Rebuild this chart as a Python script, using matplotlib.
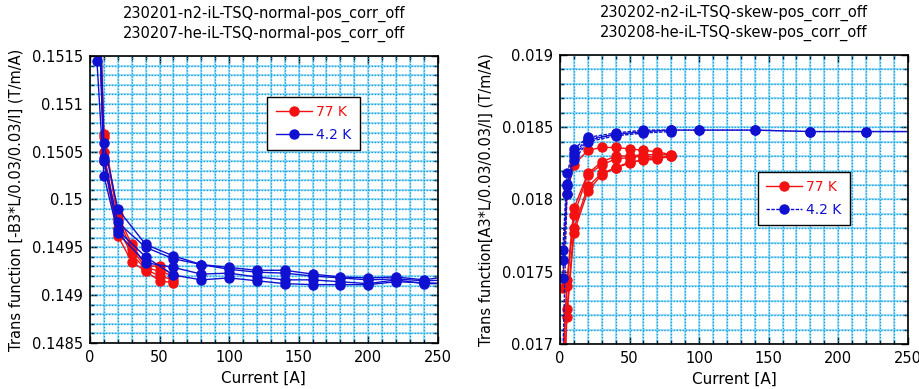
import matplotlib
matplotlib.use("Agg")
import matplotlib.pyplot as plt
from matplotlib.ticker import MultipleLocator, FuncFormatter
import numpy as np

# ---------------- Left panel data (normal) ----------------
left_title = "230201-n2-iL-TSQ-normal-pos_corr_off\n230207-he-iL-TSQ-normal-pos_corr_off"
left_ylabel = "Trans function [-B3*L/0.03/0.03/I] (T/m/A)"

left_red_x = [
    [5, 10, 20, 30, 40, 50, 60],
    [5, 10, 20, 30, 40, 50, 60],
    [5, 10, 20, 30, 40, 50, 60],
    [5, 10, 20, 30, 40, 50, 60],
]
left_red_y = [
    [0.1530, 0.15068, 0.14984, 0.14953, 0.14931, 0.14930, 0.14921],
    [0.1528, 0.15065, 0.14980, 0.14948, 0.14929, 0.14925, 0.14920],
    [0.1526, 0.15050, 0.14970, 0.14943, 0.14927, 0.14920, 0.14916],
    [0.1525, 0.15040, 0.14962, 0.14935, 0.14925, 0.14915, 0.14913],
]

left_blue_x = [5, 10, 20, 40, 60, 80, 100, 120, 140, 160, 180, 200, 220, 240, 260]
left_blue_y = [
    [0.1530, 0.15059, 0.14990, 0.14953, 0.14941, 0.14932, 0.14929, 0.14926, 0.14926, 0.14922, 0.14919, 0.14918, 0.14919, 0.14916, 0.14920],
    [0.1528, 0.15043, 0.14976, 0.14950, 0.14938, 0.14932, 0.14927, 0.14924, 0.14923, 0.14920, 0.14918, 0.14916, 0.14917, 0.14915, 0.14916],
    [0.15145, 0.15025, 0.14965, 0.14934, 0.14929, 0.14922, 0.14923, 0.14919, 0.14916, 0.14916, 0.14914, 0.14912, 0.14916, 0.14912, 0.14912],
    [0.1525, 0.15040, 0.14968, 0.14940, 0.14921, 0.14916, 0.14918, 0.14915, 0.14912, 0.14911, 0.14911, 0.14911, 0.14914, 0.14913, 0.14912],
]

# ---------------- Right panel data (skew) ----------------
right_title = "230202-n2-iL-TSQ-skew-pos_corr_off\n230208-he-iL-TSQ-skew-pos_corr_off"
right_ylabel = "Trans function[A3*L/0.03/0.03/I] (T/m/A)"

right_red_x = [2, 5, 10, 20, 30, 40, 50, 60, 70, 80]
right_red_y = [
    [0.01739, 0.01804, 0.01824, 0.01834, 0.01836, 0.01836, 0.01835, 0.01834, 0.01833, 0.01831],
    [0.01680, 0.01744, 0.01794, 0.01818, 0.01826, 0.01830, 0.01830, 0.01831, 0.01831, 0.01831],
    [0.01690, 0.01740, 0.01789, 0.01817, 0.01824, 0.01828, 0.01829, 0.01830, 0.01829, 0.01830],
    [0.01650, 0.01724, 0.01780, 0.01809, 0.01818, 0.01822, 0.01826, 0.01827, 0.01828, 0.01830],
    [0.01650, 0.01719, 0.01777, 0.01806, 0.01817, 0.01822, 0.01825, 0.01828, 0.01829, 0.01830],
]

right_blue_x = [
    [2, 5, 10, 20, 40, 60, 80, 100, 140, 180, 220, 260],
    [2, 5, 10, 20, 40, 60, 80, 100, 140, 180, 220, 260],
    [2, 5, 10, 20, 40, 60, 80],
    [1, 5, 10, 20, 40, 60, 80],
]
right_blue_y = [
    [0.01765, 0.01818, 0.01835, 0.01843, 0.01846, 0.01848, 0.01848, 0.01848, 0.01848, 0.01847, 0.01847, 0.01847],
    [0.01758, 0.01811, 0.01832, 0.01842, 0.01845, 0.01847, 0.01848, 0.01848, 0.01848, 0.01847, 0.01847, 0.01847],
    [0.017455, 0.01809, 0.01830, 0.01841, 0.01845, 0.01847, 0.01848],
    [0.01650, 0.01804, 0.01827, 0.01840, 0.01844, 0.01846, 0.01847],
]

legend_labels = ["77 K", "4.2 K"]

RED = "#f21010"
BLUE = "#1010d0"
GRID_LIGHT = "#a6e1f7"
GRID_DARK = "#12a2e2"

fig = plt.figure(figsize=(9.2, 3.89), dpi=100)
axL = fig.add_axes([0.0978, 0.1183, 0.378, 0.7378])
axR = fig.add_axes([0.6087, 0.1157, 0.378, 0.7430])

fmt = FuncFormatter(lambda v, p: "%g" % round(v, 6))


def style(ax, ylim, ymajor):
    ax.set_xlim(0, 250)
    ax.set_ylim(*ylim)
    ax.xaxis.set_major_locator(MultipleLocator(50))
    ax.xaxis.set_minor_locator(MultipleLocator(10))
    ax.yaxis.set_major_locator(MultipleLocator(ymajor))
    ax.yaxis.set_minor_locator(MultipleLocator(ymajor / 5))
    ax.yaxis.set_major_formatter(fmt)
    ax.set_axisbelow(True)
    ax.grid(which="both", color=GRID_LIGHT, lw=1.4, ls="-", zorder=0)
    # dotted overlay
    for xv in np.arange(10, 250, 10):
        ax.axvline(xv, color=GRID_DARK, lw=1.0, ls=(0, (1, 1.2)), zorder=1)
    for yv in np.arange(ylim[0] + ymajor / 5, ylim[1] - 1e-9, ymajor / 5):
        ax.axhline(yv, color=GRID_DARK, lw=1.0, ls=(0, (1, 1.2)), zorder=1)
    ax.tick_params(which="both", direction="in", top=True, right=True,
                   labelsize=10.5, pad=5)
    ax.tick_params(which="major", length=5, width=1)
    ax.tick_params(which="minor", length=3, width=1)
    for s in ax.spines.values():
        s.set_linewidth(1.2)
        s.set_zorder(5)
    ax.set_xlabel("Current [A]", fontsize=11, labelpad=4)


style(axL, (0.1485, 0.1515), 0.0005)
style(axR, (0.017, 0.019), 0.0005)

# Left plot
for i, (xs, ys) in enumerate(zip(left_red_x, left_red_y)):
    axL.plot(xs, ys, "-o", color=RED, lw=1.0, ms=6.5, zorder=3,
             label=legend_labels[0] if i == 0 else None)
for i, ys in enumerate(left_blue_y):
    axL.plot(left_blue_x, ys, "-o", color=BLUE, lw=1.0, ms=6.5, zorder=4,
             label=legend_labels[1] if i == 0 else None)

# Right plot
for i, ys in enumerate(right_red_y):
    axR.plot(right_red_x, ys, "-o", color=RED, lw=1.0, ms=6.5, zorder=3,
             label=legend_labels[0] if i == 0 else None)
for i, (xs, ys) in enumerate(zip(right_blue_x, right_blue_y)):
    axR.plot(xs, ys, "-o", color=BLUE, lw=1.0, ms=6.5, ls=(0, (2.5, 1)), zorder=4,
             label=legend_labels[1] if i == 0 else None)

axL.set_title(left_title, fontsize=10.5, linespacing=1.35, pad=13)
axR.set_title(right_title, fontsize=10.5, linespacing=1.35, pad=13)
axL.set_ylabel(left_ylabel, fontsize=10.5, labelpad=6)
axR.set_ylabel(right_ylabel, fontsize=10.5, labelpad=6)

for ax, loc in ((axL, (0.51, 0.857)), (axR, (0.569, 0.595))):
    leg = ax.legend(loc="upper left", bbox_to_anchor=loc, fontsize=10,
                    frameon=True, fancybox=False, edgecolor="black",
                    framealpha=1, borderpad=0.6, handlelength=2.6,
                    handletextpad=0.3, labelspacing=0.6, borderaxespad=0)
    leg.get_frame().set_linewidth(1.0)
    leg.set_zorder(10)
    for t, c in zip(leg.get_texts(), (RED, BLUE)):
        t.set_color(c)

fig.savefig("out.png", dpi=100)
